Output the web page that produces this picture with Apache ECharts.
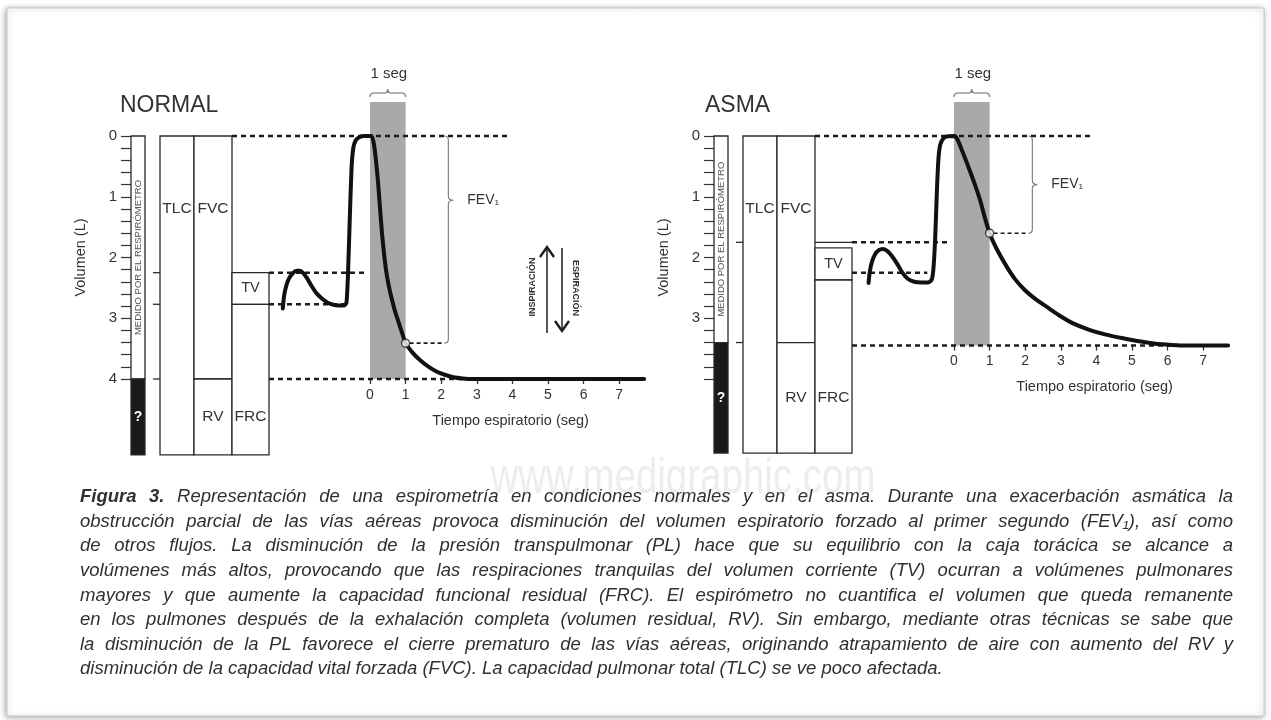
<!DOCTYPE html>
<html><head><meta charset="utf-8">
<script src="https://cdn.jsdelivr.net/npm/echarts@6/dist/echarts.min.js"></script>
<style>html,body{margin:0;padding:0;background:#fff}#c{width:1271px;height:720px}</style>
</head><body><div id="c"></div>
<script>
// ================= DATA =================
const timeTicks = [0, 1, 2, 3, 4, 5, 6, 7];
const normalYLabels = [0, 1, 2, 3, 4];
const asmaYLabels = [0, 1, 2, 3];

// lung volume boxes: [label, top (L), bottom (L)]
const normalBoxes = [['TLC', 0, 5.25], ['FVC', 0, 4.0], ['RV', 4.0, 5.25], ['TV', 2.25, 2.77], ['FRC', 2.77, 5.25]];
const asmaBoxes   = [['TLC', 0, 5.22], ['FVC', 0, 3.4], ['RV', 3.4, 5.22], ['TV', 1.84, 2.37], ['FRC', 2.37, 5.22]];
// spirometer-measured column: [label, top, bottom]
const normalMeasured = [['MEDIDO POR EL RESPIRÓMETRO', 0, 4.0], ['?', 4.0, 5.25]];
const asmaMeasured   = [['MEDIDO POR EL RESPIRÓMETRO', 0, 3.4], ['?', 3.4, 5.22]];
// small marks left of TLC column (L)
const normalSideTicks = [2.25, 2.77, 4.0];
const asmaSideTicks = [1.75, 3.4];
// reference levels: [volume L, starting column edge, end time s]
const normalRefLines = [[0, 'FVC', 3.86], [2.25, 'FRC', -0.14], [2.77, 'FRC', -0.56], [4.0, 'FRC', 7.7]];
const asmaRefLines   = [[0, 'FVC', 3.86], [1.75, 'FVC*', -0.17], [2.25, 'FRC', -0.75], [3.45, 'FRC', 7.7]];

// spirogram curves: [time s, volume L]
const normalCurve = [
  [-2.45, 2.84], [-2.41, 2.62], [-2.35, 2.46], [-2.27, 2.34], [-2.17, 2.26], [-2.07, 2.22], [-1.97, 2.22],
  [-1.87, 2.26], [-1.77, 2.34], [-1.65, 2.46], [-1.5, 2.59], [-1.3, 2.7], [-1.13, 2.76], [-0.9, 2.79],
  [-0.72, 2.79], [-0.66, 2.74], [-0.62, 2.3], [-0.57, 1.4], [-0.52, 0.55], [-0.47, 0.2], [-0.4, 0.07],
  [-0.3, 0.02], [-0.15, 0], [0.04, 0], [0.1, 0.1], [0.16, 0.36], [0.22, 0.72], [0.28, 1.18], [0.34, 1.62],
  [0.41, 2.02], [0.48, 2.32], [0.55, 2.53], [0.62, 2.7], [0.7, 2.88], [0.8, 3.06], [0.9, 3.24],
  [1.0, 3.41], [1.2, 3.57], [1.41, 3.69], [1.65, 3.8], [1.88, 3.88], [2.1, 3.93], [2.34, 3.97],
  [2.6, 3.99], [2.9, 4.0], [7.7, 4.0]
];
const asmaCurve = [
  [-2.4, 2.42], [-2.37, 2.25], [-2.31, 2.08], [-2.22, 1.95], [-2.11, 1.88], [-2.0, 1.86], [-1.88, 1.89],
  [-1.75, 1.97], [-1.6, 2.1], [-1.45, 2.25], [-1.3, 2.35], [-1.12, 2.4], [-0.9, 2.41], [-0.72, 2.41],
  [-0.63, 2.37], [-0.58, 2.2], [-0.53, 1.7], [-0.48, 0.9], [-0.44, 0.4], [-0.39, 0.15], [-0.3, 0.04],
  [-0.18, 0.005], [0.02, 0], [0.1, 0.06], [0.2, 0.2], [0.32, 0.38], [0.45, 0.58], [0.6, 0.82],
  [0.73, 1.05], [0.86, 1.33], [1.0, 1.6], [1.2, 1.86], [1.48, 2.15], [1.72, 2.36], [1.98, 2.53],
  [2.3, 2.69], [2.6, 2.81], [2.95, 2.95], [3.33, 3.08], [3.8, 3.19], [4.27, 3.27], [4.75, 3.33],
  [5.2, 3.38], [5.65, 3.42], [6.12, 3.44], [6.5, 3.45], [7.7, 3.45]
];
const normalFEV1 = [1, 3.41];
const asmaFEV1 = [1, 1.6];
const normalResidual = 4.0;
const asmaResidual = 3.45;

const captionLines = [
  'Figura 3. Representación de una espirometría en condiciones normales y en el asma. Durante una exacerbación asmática la',
  'obstrucción parcial de las vías aéreas provoca disminución del volumen espiratorio forzado al primer segundo (FEV₁), así como',
  'de otros flujos. La disminución de la presión transpulmonar (PL) hace que su equilibrio con la caja torácica se alcance a',
  'volúmenes más altos, provocando que las respiraciones tranquilas del volumen corriente (TV) ocurran a volúmenes pulmonares',
  'mayores y que aumente la capacidad funcional residual (FRC). El espirómetro no cuantifica el volumen que queda remanente',
  'en los pulmones después de la exhalación completa (volumen residual, RV). Sin embargo, mediante otras técnicas se sabe que',
  'la disminución de la PL favorece el cierre prematuro de las vías aéreas, originando atrapamiento de aire con aumento del RV y',
  'disminución de la capacidad vital forzada (FVC). La capacidad pulmonar total (TLC) se ve poco afectada.'
];

// ================= LAYOUT / STYLE =================
const FONT = '"Liberation Sans", Arial, Helvetica, sans-serif';
const INK = '#1c1c1c', TXT = '#333';
const PX_PER_L = 60.75, PX_PER_S = 35.6, TOP = 136, XMIN = -2.6, XMAX = 7.8;
const BOX_W = 138;
const COL = { M: [0, 14], TLC: [29, 63], FVC: [63, 101], RV: [63, 101], TV: [101, 138], FRC: [101, 138] };
const LABEL_L = 1.2, BRACE_T = 2.2;

const panels = [
  { title: 'NORMAL', titleX: 120, boxLeft: 131, timeLeft: 370, boxes: normalBoxes, measured: normalMeasured,
    side: normalSideTicks, ref: normalRefLines, curve: normalCurve, fev1: normalFEV1, resid: normalResidual,
    yLabels: normalYLabels, braceTip: 0.31 },
  { title: 'ASMA', titleX: 705, boxLeft: 714, timeLeft: 954, boxes: asmaBoxes, measured: asmaMeasured,
    side: asmaSideTicks, ref: asmaRefLines, curve: asmaCurve, fev1: asmaFEV1, resid: asmaResidual,
    yLabels: asmaYLabels, braceTip: 0.5 }
];

const grid = [], xAxis = [], yAxis = [], series = [];
const isInt = v => Math.abs(v - Math.round(v)) < 1e-6;

panels.forEach((p, i) => {
  const gb = 2 * i, gt = 2 * i + 1;
  grid.push({ left: p.boxLeft, top: TOP, width: BOX_W, height: 4 * PX_PER_L, outerBoundsMode: 'none', containLabel: false });
  grid.push({ left: p.timeLeft + XMIN * PX_PER_S, top: TOP, width: (XMAX - XMIN) * PX_PER_S, height: p.resid * PX_PER_L, outerBoundsMode: 'none', containLabel: false });
  xAxis.push({ gridIndex: gb, type: 'value', min: 0, max: BOX_W, show: false });
  xAxis.push({
    gridIndex: gt, type: 'value', min: XMIN, max: XMAX, position: 'bottom',
    axisLine: { show: false, onZero: false }, splitLine: { show: false },
    axisTick: { show: true, inside: false, length: 5, customValues: timeTicks, lineStyle: { color: TXT, width: 1.3 } },
    axisLabel: { customValues: timeTicks, margin: 9, fontSize: 14, color: TXT, fontFamily: FONT,
      formatter: v => isInt(v) && timeTicks.includes(Math.round(v)) ? String(Math.round(v)) : '' },
    name: 'Tiempo espiratorio (seg)', nameLocation: 'middle', nameGap: 34,
    nameTextStyle: { fontSize: 14.5, color: TXT, fontFamily: FONT, padding: [0, 0, 0, (-XMIN + 0.1) * PX_PER_S] }
  });
  yAxis.push({
    gridIndex: gb, type: 'value', min: 0, max: 4, interval: 0.2, inverse: true,
    axisLine: { show: false, onZero: false }, splitLine: { show: false },
    axisTick: { show: true, inside: false, length: 10, lineStyle: { color: TXT, width: 1.2 } },
    axisLabel: { margin: 14, fontSize: 15, color: TXT, fontFamily: FONT,
      formatter: v => isInt(v) && p.yLabels.includes(Math.round(v)) ? String(Math.round(v)) : '' },
    name: 'Volumen (L)', nameLocation: 'middle', nameGap: 43,
    nameTextStyle: { fontSize: 14.5, color: TXT, fontFamily: FONT }
  });
  yAxis.push({ gridIndex: gt, type: 'value', min: 0, max: p.resid, inverse: true, show: false });

  const rvBox = p.boxes.find(b => b[0] === 'RV');
  // --- lung volume boxes
  series.push({
    type: 'custom', xAxisIndex: gb, yAxisIndex: gb, clip: false, z: 2,
    data: p.boxes.map(b => [b[1], b[2]]),
    renderItem: (params, api) => {
      const b = p.boxes[params.dataIndex], c = COL[b[0]];
      const a = api.coord([c[0], b[1]]), z = api.coord([c[1], b[2]]);
      let ly = (a[1] + z[1]) / 2;
      if (b[0] === 'TLC' || b[0] === 'FVC') ly = api.coord([0, LABEL_L])[1];
      if (b[0] === 'FRC') ly = api.coord([0, (rvBox[1] + rvBox[2]) / 2])[1];
      return { type: 'group', children: [
        { type: 'rect', shape: { x: a[0], y: a[1], width: z[0] - a[0], height: z[1] - a[1] },
          style: { fill: '#fff', stroke: '#2a2a2a', lineWidth: 1.3 } },
        { type: 'text', x: (a[0] + z[0]) / 2, y: ly,
          style: { text: b[0], fill: TXT, fontSize: b[0] === 'TV' ? 14.5 : 15.5, fontFamily: FONT, align: 'center', verticalAlign: 'middle' } }
      ] };
    }
  });
  // --- measured column
  series.push({
    type: 'custom', xAxisIndex: gb, yAxisIndex: gb, clip: false, z: 2,
    data: p.measured.map(b => [b[1], b[2]]),
    renderItem: (params, api) => {
      const b = p.measured[params.dataIndex], c = COL.M;
      const a = api.coord([c[0], b[1]]), z = api.coord([c[1], b[2]]);
      const dark = params.dataIndex === 1;
      return { type: 'group', children: [
        { type: 'rect', shape: { x: a[0], y: a[1], width: z[0] - a[0], height: z[1] - a[1] },
          style: { fill: dark ? '#1a1a1a' : '#fff', stroke: '#2a2a2a', lineWidth: 1.3 } },
        { type: 'text', x: (a[0] + z[0]) / 2 + (dark ? 0 : 0.5), y: (a[1] + z[1]) / 2, rotation: dark ? 0 : Math.PI / 2,
          style: { text: b[0], fill: dark ? '#fff' : '#555', fontSize: dark ? 14 : 9.5, fontWeight: dark ? 'bold' : 'normal',
            fontFamily: FONT, align: 'center', verticalAlign: 'middle' } }
      ] };
    }
  });
  // --- small side marks
  series.push({
    type: 'custom', xAxisIndex: gb, yAxisIndex: gb, clip: false, z: 2,
    data: p.side.map(v => [COL.TLC[0], v]),
    renderItem: (params, api) => {
      const v = p.side[params.dataIndex];
      const a = api.coord([COL.TLC[0] - 7, v]), z = api.coord([COL.TLC[0], v]);
      return { type: 'line', shape: { x1: a[0], y1: a[1], x2: z[0], y2: z[1] }, style: { stroke: '#2a2a2a', lineWidth: 1.3 } };
    }
  });
  // --- 1 second band
  series.push({
    type: 'custom', xAxisIndex: gt, yAxisIndex: gt, clip: false, z: 1,
    data: [[0, 1]],
    renderItem: (params, api) => {
      const a = api.coord([0, 0]), b = api.coord([1, p.resid]);
      const top = a[1] - 34, x0 = a[0], x1 = b[0], xm = (x0 + x1) / 2, by = top - 5;
      const path = `M${x0} ${by} Q${x0} ${by - 4} ${x0 + 4} ${by - 4} L${xm - 3} ${by - 4} Q${xm} ${by - 4} ${xm} ${by - 8} Q${xm} ${by - 4} ${xm + 3} ${by - 4} L${x1 - 4} ${by - 4} Q${x1} ${by - 4} ${x1} ${by}`;
      return { type: 'group', children: [
        { type: 'rect', shape: { x: x0, y: top, width: x1 - x0, height: b[1] - top }, style: { fill: '#a9a9ac' } },
        { type: 'path', shape: { pathData: path }, style: { fill: 'none', stroke: '#666', lineWidth: 1.1 } },
        { type: 'text', x: xm + 1, y: top - 28, style: { text: '1 seg', fill: TXT, fontSize: 15, fontFamily: FONT, align: 'center', verticalAlign: 'middle' } }
      ] };
    }
  });
  // --- dashed reference levels
  series.push({
    type: 'custom', xAxisIndex: gt, yAxisIndex: gt, clip: false, z: 3,
    data: p.ref.map(r => [r[2], r[0]]),
    renderItem: (params, api) => {
      const r = p.ref[params.dataIndex];
      const y = api.coord([0, r[0]])[1];
      const x2 = api.coord([r[2], r[0]])[0];
      const children = [];
      let x1 = p.boxLeft + (r[1] === 'FRC' ? COL.FRC[1] : COL.FVC[1]);
      if (r[1] === 'FVC*') {
        children.push({ type: 'line', shape: { x1: x1, y1: y, x2: p.boxLeft + COL.FRC[1], y2: y }, style: { stroke: '#2a2a2a', lineWidth: 1.3 } });
        x1 = p.boxLeft + COL.FRC[1];
      }
      children.push({ type: 'line', shape: { x1: x1, y1: y, x2: x2, y2: y }, style: { stroke: INK, lineWidth: 2.5, lineDash: [5, 4] } });
      return { type: 'group', children };
    }
  });
  // --- FEV1 brace
  series.push({
    type: 'custom', xAxisIndex: gt, yAxisIndex: gt, clip: false, z: 3,
    data: [[p.fev1[0], p.fev1[1]]],
    renderItem: (params, api) => {
      const t0 = api.coord([BRACE_T, 0]), t1 = api.coord([BRACE_T, p.fev1[1]]), pt = api.coord(p.fev1);
      const x = t0[0], y0 = t0[1], y1 = t1[1], ym = y0 + (y1 - y0) * p.braceTip;
      const path = `M${x - 4} ${y0} Q${x} ${y0} ${x} ${y0 + 4} L${x} ${ym - 4} Q${x} ${ym} ${x + 5} ${ym} Q${x} ${ym} ${x} ${ym + 4} L${x} ${y1 - 4} Q${x} ${y1} ${x - 4} ${y1}`;
      return { type: 'group', children: [
        { type: 'line', shape: { x1: pt[0] + 4, y1: y1, x2: x - 4, y2: y1 }, style: { stroke: INK, lineWidth: 1.6, lineDash: [4, 3] } },
        { type: 'path', shape: { pathData: path }, style: { fill: 'none', stroke: '#777', lineWidth: 1.1 } },
        { type: 'text', x: x + 19, y: ym, style: { text: 'FEV₁', fill: TXT, fontSize: 14, fontFamily: FONT, align: 'left', verticalAlign: 'middle' } }
      ] };
    }
  });
  // --- spirogram
  series.push({
    type: 'line', xAxisIndex: gt, yAxisIndex: gt, data: p.curve, clip: false, z: 4,
    smooth: 0.2, showSymbol: false, symbol: 'none',
    lineStyle: { color: '#111', width: 4, cap: 'round', join: 'round' }
  });
  series.push({
    type: 'scatter', xAxisIndex: gt, yAxisIndex: gt, data: [p.fev1], clip: false, z: 5,
    symbolSize: 8, itemStyle: { color: '#fff', borderColor: '#222', borderWidth: 1.5 }
  });
});

// ================= GRAPHIC (frame, titles, arrows, caption) =================
const graphic = [];
graphic.push({ type: 'rect', z: -10, shape: { x: 7, y: 8, width: 1257, height: 708 },
  style: { fill: '#fff', stroke: '#c8c8c8', lineWidth: 1, shadowBlur: 6, shadowColor: 'rgba(0,0,0,0.35)', shadowOffsetX: -1, shadowOffsetY: 1 } });
panels.forEach(p => {
  graphic.push({ type: 'text', x: p.titleX, y: 106, style: { text: p.title, fill: TXT, fontSize: 23, fontFamily: FONT, verticalAlign: 'middle' } });
});
// inspiration / expiration arrows (normal panel)
graphic.push({ type: 'line', shape: { x1: 547, y1: 333, x2: 547, y2: 248 }, style: { stroke: INK, lineWidth: 1.5 } });
graphic.push({ type: 'polyline', shape: { points: [[540, 257], [547, 247], [554, 257]] }, style: { stroke: INK, lineWidth: 2.4, fill: 'none' } });
graphic.push({ type: 'line', shape: { x1: 562, y1: 248, x2: 562, y2: 331 }, style: { stroke: INK, lineWidth: 1.5 } });
graphic.push({ type: 'polyline', shape: { points: [[555, 321], [562, 331], [569, 321]] }, style: { stroke: INK, lineWidth: 2.4, fill: 'none' } });
graphic.push({ type: 'text', x: 533, y: 287, rotation: Math.PI / 2, style: { text: 'INSPIRACIÓN', fill: TXT, fontSize: 9, fontWeight: 'bold', fontFamily: FONT, align: 'center', verticalAlign: 'middle' } });
graphic.push({ type: 'text', x: 575, y: 288, rotation: -Math.PI / 2, style: { text: 'ESPIRACIÓN', fill: TXT, fontSize: 9, fontWeight: 'bold', fontFamily: FONT, align: 'center', verticalAlign: 'middle' } });

// watermark
graphic.push({ type: 'text', x: 683, y: 479, scaleX: 0.77, style: { text: 'www.medigraphic.com', fill: '#ededed', fontSize: 50, fontFamily: FONT, align: 'center', verticalAlign: 'middle' } });

// caption, justified
const CAP_L = 80, CAP_R = 1233, CAP_Y0 = 497, CAP_DY = 24.6;
const mctx = document.createElement('canvas').getContext('2d');
const fontStr = (s, bold) => 'italic ' + (bold ? 'bold ' : '') + s + 'px "Liberation Sans"';
const tw = (t, f) => { mctx.font = f; return mctx.measureText(t).width; };
let capSize = 17;
function lineInfo(line, li, s) {
  const words = line.split(' ');
  const ws = words.map((w, k) => tw(w, fontStr(s, li === 0 && k < 2)));
  const sum = ws.reduce((a, b) => a + b, 0);
  return { words, ws, sum, natural: sum + tw(' ', fontStr(s, false)) * (words.length - 1) };
}
let maxW = 0;
captionLines.forEach((ln, li) => { maxW = Math.max(maxW, lineInfo(ln, li, capSize).natural); });
capSize = capSize * (CAP_R - CAP_L) / maxW * 0.995;
if (capSize > 18.5) capSize = 18.5;
captionLines.forEach((ln, li) => {
  const info = lineInfo(ln, li, capSize);
  const last = li === captionLines.length - 1;
  const gap = last ? tw(' ', fontStr(capSize, false)) : (CAP_R - CAP_L - info.sum) / (info.words.length - 1);
  let x = CAP_L;
  info.words.forEach((w, k) => {
    const bold = li === 0 && k < 2;
    graphic.push({ type: 'text', x: x, y: CAP_Y0 + li * CAP_DY,
      style: { text: w, fill: '#303030', fontSize: capSize, fontStyle: 'italic', fontWeight: bold ? 'bold' : 'normal',
        fontFamily: '"Liberation Sans", Arial, sans-serif', verticalAlign: 'middle' } });
    x += info.ws[k] + gap;
  });
});

const chart = echarts.init(document.getElementById('c'));
chart.setOption({
  backgroundColor: '#fff', animation: false,
  grid, xAxis, yAxis, series, graphic
});
</script>
</body></html>
